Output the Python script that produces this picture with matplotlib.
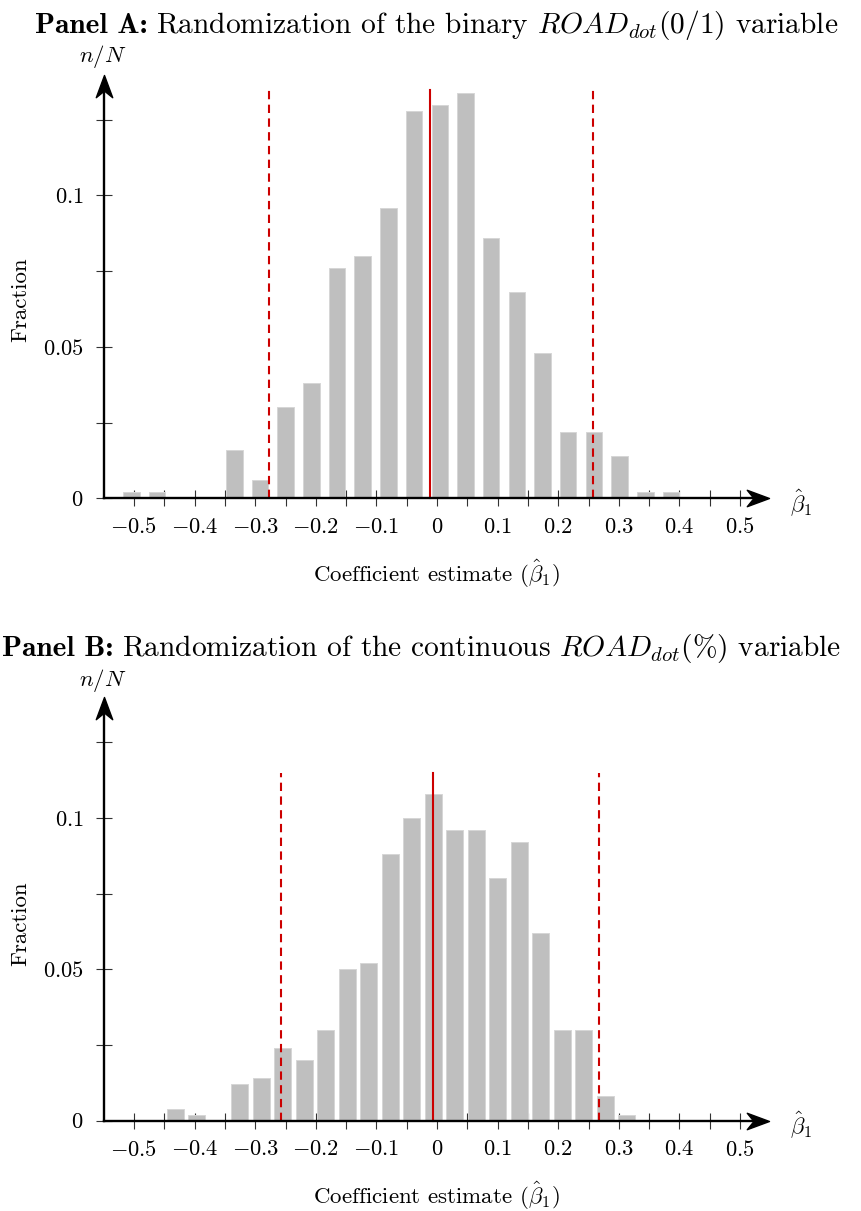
import numpy as np
import matplotlib
matplotlib.use("Agg")
import matplotlib.pyplot as plt
from matplotlib.path import Path

plt.rcParams['font.family'] = 'serif'
plt.rcParams['font.serif'] = ['cmr10']
plt.rcParams['mathtext.fontset'] = 'cm'
plt.rcParams['axes.unicode_minus'] = False

# ---------------- data ----------------
centers_a = [-0.504, -0.462, -0.419, -0.377, -0.334, -0.292, -0.250, -0.207,
             -0.165, -0.123, -0.080, -0.038, 0.005, 0.047, 0.089, 0.132,
             0.174, 0.216, 0.259, 0.301, 0.344, 0.386]
frac_a = [0.002, 0.002, 0.0, 0.0, 0.016, 0.006, 0.030, 0.038, 0.076, 0.080,
          0.096, 0.128, 0.130, 0.134, 0.086, 0.068, 0.048, 0.022, 0.022,
          0.014, 0.002, 0.002]
lines_a = {"lower": -0.277, "mean": -0.011, "upper": 0.257, "top": 0.1348}

centers_b = [-0.432, -0.397, -0.361, -0.326, -0.290, -0.255, -0.219, -0.184,
             -0.148, -0.113, -0.077, -0.042, -0.006, 0.029, 0.065, 0.100,
             0.136, 0.171, 0.207, 0.242, 0.278, 0.313]
frac_b = [0.004, 0.002, 0.0, 0.012, 0.014, 0.024, 0.020, 0.030, 0.050, 0.052,
          0.088, 0.100, 0.108, 0.096, 0.096, 0.080, 0.092, 0.062, 0.030,
          0.030, 0.008, 0.002]
lines_b = {"lower": -0.258, "mean": -0.006, "upper": 0.268, "top": 0.1149}

x_major = [-0.5, -0.4, -0.3, -0.2, -0.1, 0.0, 0.1, 0.2, 0.3, 0.4, 0.5]
x_major_labels = [r"$-0.5$", r"$-0.4$", r"$-0.3$", r"$-0.2$", r"$-0.1$", r"$0$",
                  r"$0.1$", r"$0.2$", r"$0.3$", r"$0.4$", r"$0.5$"]
x_minor = [-0.45, -0.35, -0.25, -0.15, -0.05, 0.05, 0.15, 0.25, 0.35, 0.45]
y_major = [0.0, 0.05, 0.1]
y_major_labels = [r"$0$", r"$0.05$", r"$0.1$"]
y_minor = [0.025, 0.075, 0.125]

title_a_bold = "Panel A:"
title_a_rest = r"Randomization of the binary $ROAD_{dot}(0/1)$ variable"
title_b_bold = "Panel B:"
title_b_rest = r"Randomization of the continuous $ROAD_{dot}(\%)$ variable"

# ---------------- layout ----------------
W, H = 861, 1211
fig = plt.figure(figsize=(W / 100, H / 100), dpi=100)

X0PX, XS = 437.0, 606.0       # pixel of x=0 and pixels per unit
YS = 3028.0                   # pixels per unit on y
LEFT_PX, RIGHT_PX = 104.0, 769.3

BAR_COLOR = "#bfbfbf"
RED = "#cc0000"
TICK_FS = 16.2
LAB_FS = 16.5
SYM_FS = 16.5
TITLE_FS = 21.2

def fx(px):
    return px / W

def fy(py):
    return 1 - py / H

arrow_x = Path([(0, 0), (-1, 0.37), (-0.7, 0), (-1, -0.37), (0, 0)],
               [Path.MOVETO, Path.LINETO, Path.LINETO, Path.LINETO, Path.CLOSEPOLY])
arrow_y = Path([(0, 0), (-0.37, -1), (0, -0.7), (0.37, -1), (0, 0)],
               [Path.MOVETO, Path.LINETO, Path.LINETO, Path.LINETO, Path.CLOSEPOLY])


def panel(y0px, toppx, centers, fracs, lines, tb, tr, title_left_px,
          title_base_px, nN_px, frac_center_px, xlabel_px):
    ax = fig.add_axes([fx(LEFT_PX), fy(y0px), (RIGHT_PX - LEFT_PX) / W,
                       (y0px - toppx) / H])
    ax.set_xlim((LEFT_PX - X0PX) / XS, (RIGHT_PX - X0PX) / XS)
    ax.set_ylim(0, (y0px - toppx) / YS)
    for s in ax.spines.values():
        s.set_visible(False)
    ax.patch.set_alpha(0)

    ax.bar(centers, fracs, width=0.0275, color=BAR_COLOR,
           edgecolor="#d6d6d6", linewidth=0.7, zorder=2)

    top = lines["top"]
    ax.plot([lines["lower"]] * 2, [0, top], color=RED, lw=1.5,
            ls=(0, (4, 2.6)), zorder=3, clip_on=False)
    ax.plot([lines["upper"]] * 2, [0, top], color=RED, lw=1.5,
            ls=(0, (4, 2.6)), zorder=3, clip_on=False)
    ax.plot([lines["mean"]] * 2, [0, top], color=RED, lw=1.5, zorder=3,
            clip_on=False)

    # axes with arrows
    ax.plot([0, 0.985], [0, 0], transform=ax.transAxes, color="k", lw=1.7,
            clip_on=False, zorder=4)
    ax.plot([0, 0], [0, 0.985], transform=ax.transAxes, color="k", lw=1.7,
            clip_on=False, zorder=4)
    ax.plot([1], [0], transform=ax.transAxes, marker=arrow_x, ms=32,
            color="k", clip_on=False, zorder=5)
    ax.plot([0], [1], transform=ax.transAxes, marker=arrow_y, ms=32,
            color="k", clip_on=False, zorder=5)

    ax.set_xticks(x_major)
    ax.set_xticklabels(x_major_labels)
    ax.set_xticks(x_minor, minor=True)
    ax.set_yticks(y_major)
    ax.set_yticklabels(y_major_labels)
    ax.set_yticks(y_minor, minor=True)
    ax.tick_params(axis="both", which="both", direction="inout", length=11.5,
                   width=0.8, color="#333333", labelsize=TICK_FS)
    ax.tick_params(axis="x", which="both", pad=8)
    ax.tick_params(axis="y", which="both", pad=9)

    # titles / labels in figure pixel coords
    t1 = fig.text(fx(title_left_px), fy(title_base_px), tb, fontfamily="cmb10",
                  fontsize=TITLE_FS, va="baseline", ha="left")
    fig.canvas.draw()
    r = fig.canvas.get_renderer()
    x1 = t1.get_window_extent(r).x1
    fig.text((x1 + 8) / W, fy(title_base_px), tr, fontsize=TITLE_FS,
             va="baseline", ha="left")

    fig.text(fx(102.5), fy(nN_px), r"$n/N$", fontsize=SYM_FS,
             ha="center", va="center")
    fig.text(fx(801), fy(y0px + 4), r"$\hat{\beta}_1$", fontsize=SYM_FS,
             ha="center", va="center")
    fig.text(fx(20), fy(frac_center_px), "Fraction", fontsize=LAB_FS,
             rotation=90, ha="center", va="center")
    fig.text(fx(437), fy(xlabel_px), r"Coefficient estimate ($\hat{\beta}_1$)",
             fontsize=LAB_FS, ha="center", va="center")
    return ax


panel(498.3, 75.0, centers_a, frac_a, lines_a, title_a_bold, title_a_rest,
      35, 33, 56.7, 300, 574)
panel(1120.7, 697.3, centers_b, frac_b, lines_b, title_b_bold, title_b_rest,
      2, 656, 680, 924, 1196)

fig.savefig("out.png", dpi=100)
